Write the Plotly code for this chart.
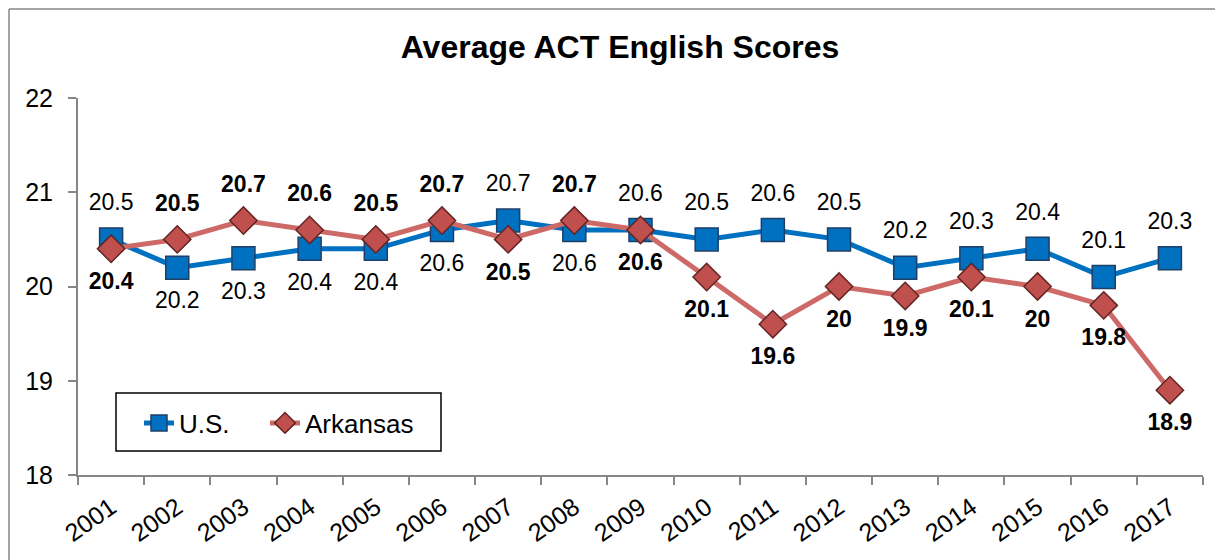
import plotly.graph_objects as go

years = [str(y) for y in range(2001, 2018)]
us = [20.5, 20.2, 20.3, 20.4, 20.4, 20.6, 20.7, 20.6, 20.6, 20.5, 20.6, 20.5, 20.2, 20.3, 20.4, 20.1, 20.3]
ark = [20.4, 20.5, 20.7, 20.6, 20.5, 20.7, 20.5, 20.7, 20.6, 20.1, 19.6, 20.0, 19.9, 20.1, 20.0, 19.8, 18.9]
us_pos = ["top center", "bottom center", "bottom center", "bottom center", "bottom center",
          "bottom center", "top center", "bottom center", "top center", "top center",
          "top center", "top center", "top center", "top center", "top center",
          "top center", "top center"]
ark_pos = ["bottom center", "top center", "top center", "top center", "top center",
           "top center", "bottom center", "top center", "bottom center", "bottom center",
           "bottom center", "bottom center", "bottom center", "bottom center", "bottom center",
           "bottom center", "bottom center"]

def fmt(v):
    return ("%g" % v)

FONT = "Liberation Sans, Arial"

fig = go.Figure()
fig.add_trace(go.Scatter(
    x=years, y=us, name="U.S.", mode="lines+markers", legend="legend",
    line=dict(color="#0070C0", width=5),
    marker=dict(symbol="square", size=23, color="#0070C0", line=dict(color="#1F3F66", width=1.5)),
))
fig.add_trace(go.Scatter(
    x=years, y=ark, name="Arkansas", mode="lines+markers", legend="legend2",
    line=dict(color="#CD6A68", width=5),
    marker=dict(symbol="diamond", size=21, color="#C0504D", line=dict(color="#632523", width=1.5)),
))
# data labels (invisible larger markers only set the label offset)
fig.add_trace(go.Scatter(
    x=years, y=us, mode="markers+text", showlegend=False, hoverinfo="skip",
    marker=dict(size=36, color="rgba(0,0,0,0)"),
    text=[fmt(v) for v in us], textposition=us_pos,
    textfont=dict(family=FONT, size=23, color="#000000"),
    cliponaxis=False,
))
fig.add_trace(go.Scatter(
    x=years, y=ark, mode="markers+text", showlegend=False, hoverinfo="skip",
    marker=dict(size=35, color="rgba(0,0,0,0)"),
    text=[fmt(v) for v in ark], textposition=ark_pos,
    textfont=dict(family=FONT, size=23, color="#000000", weight="bold"),
    cliponaxis=False,
))

W, H = 1215, 552
L, R, T, B = 70, 20, 90, 85
pw = W - L - R
ph = H - T - B

def px(fx):
    return (fx - L) / pw

def py(fy):
    return (H - B - fy) / ph

border = dict(color="#868686", width=1.5)
leg_common = dict(yanchor="middle", xanchor="left", orientation="h", borderwidth=0,
                  bgcolor="rgba(0,0,0,0)", font=dict(size=26, color="#000000"))
fig.update_layout(
    width=W, height=H,
    margin=dict(l=L, r=R, t=T, b=B, autoexpand=False),
    paper_bgcolor="white", plot_bgcolor="white",
    font=dict(family=FONT, color="#000000"),
    title=dict(text="<b>Average ACT English Scores</b>", x=612 / W, xanchor="center",
               y=1 - 39 / H, yanchor="middle", font=dict(size=32, color="#000000")),
    showlegend=True,
    legend=dict(x=px(131), y=py(415), **leg_common),
    legend2=dict(x=px(257), y=py(415), **leg_common),
    xaxis=dict(type="category", showgrid=False, showline=True, linecolor="#868686", linewidth=2,
               ticks="outside", tickson="boundaries", ticklen=8, tickcolor="#868686", tickwidth=2,
               tickangle=-35, tickfont=dict(size=25, color="#000000"), range=[-0.5, 16.5],
               ticklabelstandoff=6, automargin=False),
    yaxis=dict(range=[18, 22], dtick=1, showgrid=False, showline=True, linecolor="#868686",
               linewidth=2, ticks="outside", ticklen=8, tickcolor="#868686", tickwidth=2,
               tickfont=dict(size=25, color="#000000"), zeroline=False,
               ticklabelstandoff=10, automargin=False),
    shapes=[
        dict(type="line", xref="paper", yref="paper", x0=px(1), x1=px(1210), y0=py(1), y1=py(1), line=border),
        dict(type="line", xref="paper", yref="paper", x0=px(1), x1=px(1), y0=py(1), y1=py(H), line=border),
        dict(type="line", xref="paper", yref="paper", x0=px(1210), x1=px(1210), y0=py(1), y1=py(H), line=border),
        dict(type="rect", xref="paper", yref="paper", x0=px(108), x1=px(433), y0=py(443), y1=py(385),
             line=dict(color="#000000", width=1.5), fillcolor="white", layer="above"),
    ],
)

fig.write_html("out.html")
